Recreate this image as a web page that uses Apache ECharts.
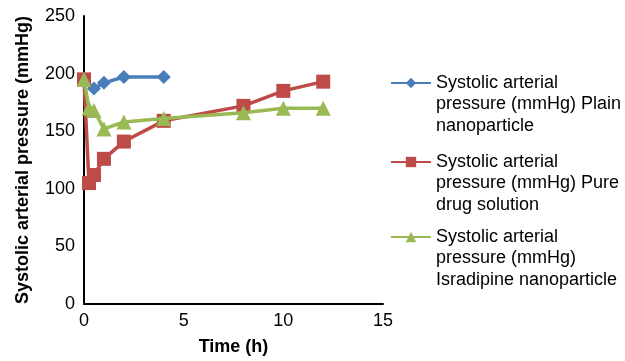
<!DOCTYPE html>
<html>
<head>
<meta charset="utf-8">
<script src="https://cdn.jsdelivr.net/npm/echarts@6/dist/echarts.min.js"></script>
<style>
  html, body { margin: 0; padding: 0; background: #fff; }
  #chart { width: 625px; height: 361px; }
</style>
</head>
<body>
<div id="chart"></div>
<script>
// Time points (h) and systolic arterial pressure (mmHg) for each formulation
const plainTime = [0, 0.5, 1, 2, 4];
const plainSAP = [195, 187, 192, 197, 197];

const pureTime = [0, 0.25, 0.5, 1, 2, 4, 8, 10, 12];
const pureSAP = [195, 105, 112, 126, 141, 159, 172, 185, 193];

const israTime = [0, 0.25, 0.5, 1, 2, 4, 8, 10, 12];
const israSAP = [195, 170, 168, 152, 158, 161, 166, 170, 170];

const seriesNames = [
  'Systolic arterial pressure (mmHg) Plain nanoparticle',
  'Systolic arterial pressure (mmHg) Pure drug solution',
  'Systolic arterial pressure (mmHg) Isradipine nanoparticle'
];
// Wrapped legend text, one array of lines per series
const legendLines = [
  ['Systolic arterial', 'pressure (mmHg) Plain', 'nanoparticle'],
  ['Systolic arterial', 'pressure (mmHg) Pure', 'drug solution'],
  ['Systolic arterial', 'pressure (mmHg)', 'Isradipine nanoparticle']
];
const colors = ['#4A7EBB', '#BE4B48', '#98B954'];

const pairs = (xs, ys) => xs.map((x, i) => [x, ys[i]]);

const chart = echarts.init(document.getElementById('chart'), null, { renderer: 'canvas' });

const font = 'Arial, "Liberation Sans", sans-serif';
const FS = 18;
const LH = 21.5;

// One legend block per series; two blank lines in front keep the icon level
// with the first text line, since legend text is centred on its icon.
const legendTops = [83, 162, 237];
const legends = seriesNames.map((name, i) => ({
  orient: 'vertical',
  left: 390,
  top: legendTops[i] - LH * 2.5,
  padding: 0,
  itemWidth: 40,
  itemHeight: 13,
  data: [name],
  formatter: () => '\n\n' + legendLines[i].join('\n'),
  textStyle: { fontFamily: font, fontSize: FS, color: '#000', lineHeight: LH }
}));

chart.setOption({
  animation: false,
  backgroundColor: '#fff',
  color: colors,
  grid: { left: 84, top: 16, right: 242, bottom: 54, containLabel: false },
  xAxis: {
    type: 'value',
    min: 0, max: 15, interval: 5,
    name: 'Time (h)',
    nameLocation: 'middle',
    nameGap: 34,
    nameTextStyle: { fontFamily: font, fontSize: FS, fontWeight: 'bold', color: '#000' },
    axisLine: { lineStyle: { color: '#000', width: 2 } },
    axisTick: { show: false },
    splitLine: { show: false },
    axisLabel: { fontFamily: font, fontSize: FS, color: '#000', margin: 8 }
  },
  yAxis: {
    type: 'value',
    min: 0, max: 250, interval: 50,
    name: 'Systolic arterial pressure (mmHg)',
    nameLocation: 'middle',
    nameGap: 52,
    nameTextStyle: { fontFamily: font, fontSize: FS, fontWeight: 'bold', color: '#000' },
    axisLine: { show: true, lineStyle: { color: '#000', width: 2 } },
    axisTick: { show: false },
    splitLine: { show: false },
    axisLabel: { fontFamily: font, fontSize: FS, color: '#000', margin: 9 }
  },
  legend: legends,
  series: [
    {
      name: seriesNames[0], type: 'line', data: pairs(plainTime, plainSAP),
      symbol: 'diamond', symbolSize: 14,
      lineStyle: { width: 3.5 }, z: 2
    },
    {
      name: seriesNames[1], type: 'line', data: pairs(pureTime, pureSAP),
      symbol: 'rect', symbolSize: 14,
      lineStyle: { width: 3.5 }, z: 3
    },
    {
      name: seriesNames[2], type: 'line', data: pairs(israTime, israSAP),
      symbol: 'triangle', symbolSize: 15,
      lineStyle: { width: 3.5 }, z: 4
    }
  ]
});
</script>
</body>
</html>
